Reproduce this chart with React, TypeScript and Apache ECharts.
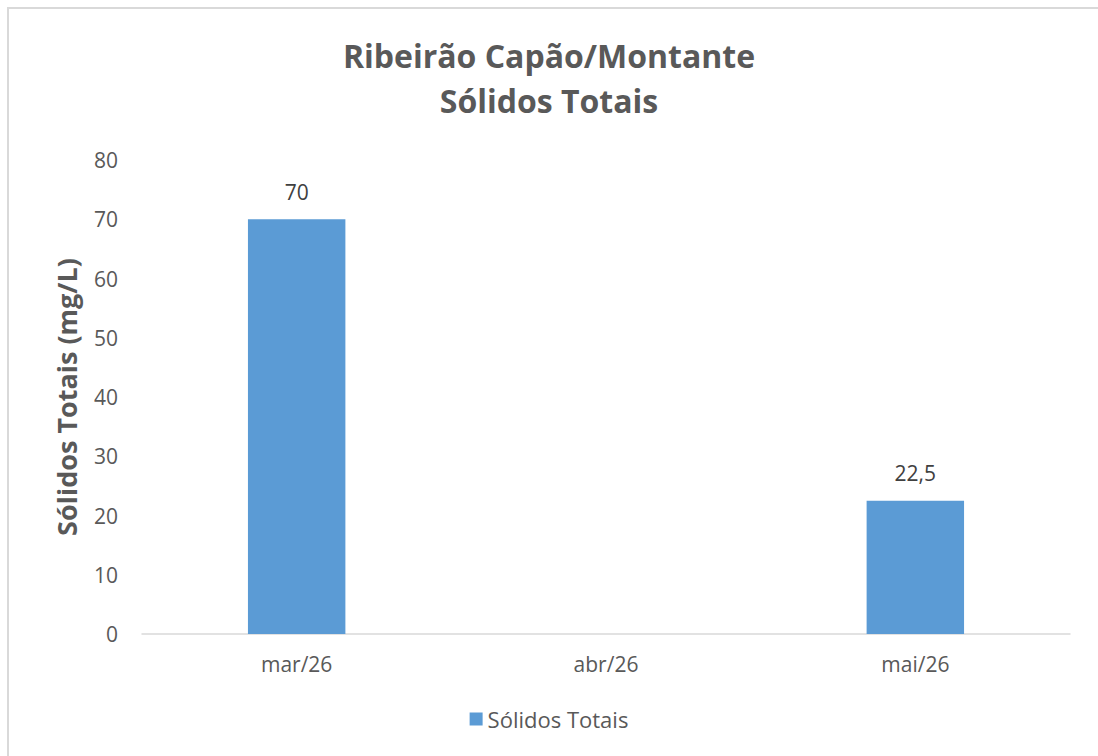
import React, { useEffect, useRef } from "react";
import * as echarts from "echarts";

const categories = ["mar/26", "abr/26", "mai/26"];
const values: (number | null)[] = [70, null, 22.5];
const seriesName = "Sólidos Totais";
const titleLines = ["Ribeirão Capão/Montante", "Sólidos Totais"];
const yAxisName = "Sólidos Totais (mg/L)";

const FONT = "'Open Sans', 'Noto Sans', sans-serif";

export default function App() {
  const ref = useRef<HTMLDivElement>(null);
  useEffect(() => {
    document.body.style.overflow = "hidden";
    const chart = echarts.init(ref.current!, undefined, { renderer: "svg" });
    chart.setOption({
      animation: false,
      backgroundColor: "transparent",
      textStyle: { fontFamily: FONT },
      title: {
        text: titleLines.join("\n"),
        left: "center",
        top: 28,
        textStyle: {
          fontFamily: FONT,
          fontSize: 32,
          fontWeight: "bold",
          color: "#595959",
          lineHeight: 45,
        },
      },
      legend: {
        bottom: 21,
        left: "center",
        itemWidth: 13,
        itemHeight: 13,
        itemGap: 6,
        icon: "rect",
        textStyle: { fontFamily: FONT, fontSize: 22, color: "#595959" },
        data: [seriesName],
      },
      grid: { left: 142, right: 28, top: 160, bottom: 122 },
      xAxis: {
        type: "category",
        data: categories,
        axisLine: { lineStyle: { color: "#d9d9d9", width: 1.5 } },
        axisTick: { show: false },
        axisLabel: { fontFamily: FONT, fontSize: 21, color: "#595959", margin: 19 },
      },
      yAxis: {
        type: "value",
        min: 0,
        max: 80,
        interval: 10,
        name: yAxisName,
        nameLocation: "middle",
        nameGap: 62,
        nameTextStyle: { fontFamily: FONT, fontSize: 27, fontWeight: "bold", color: "#595959" },
        axisLine: { show: false },
        axisTick: { show: false },
        splitLine: { show: false },
        axisLabel: { fontFamily: FONT, fontSize: 21, color: "#595959", margin: 24 },
      },
      series: [
        {
          name: seriesName,
          type: "bar",
          data: values,
          barWidth: "31.5%",
          itemStyle: { color: "#5b9bd5" },
          label: {
            show: true,
            position: "top",
            distance: 17,
            fontFamily: FONT,
            fontSize: 21,
            color: "#404040",
            formatter: (p: any) => String(p.value).replace(".", ","),
          },
        },
      ],
    });
    return () => chart.dispose();
  }, []);
  return (
    <div style={{ position: "fixed", left: 0, top: 0, width: 1098, height: 756, overflow: "hidden", background: "#fff" }}>
      <div
        style={{
          position: "absolute",
          left: 7,
          top: 7,
          width: 1200,
          height: 900,
          border: "2px solid #d9d9d9",
          boxSizing: "border-box",
        }}
      />
      <div ref={ref} style={{ position: "absolute", left: 0, top: 0, width: 1098, height: 756 }} />
    </div>
  );
}
